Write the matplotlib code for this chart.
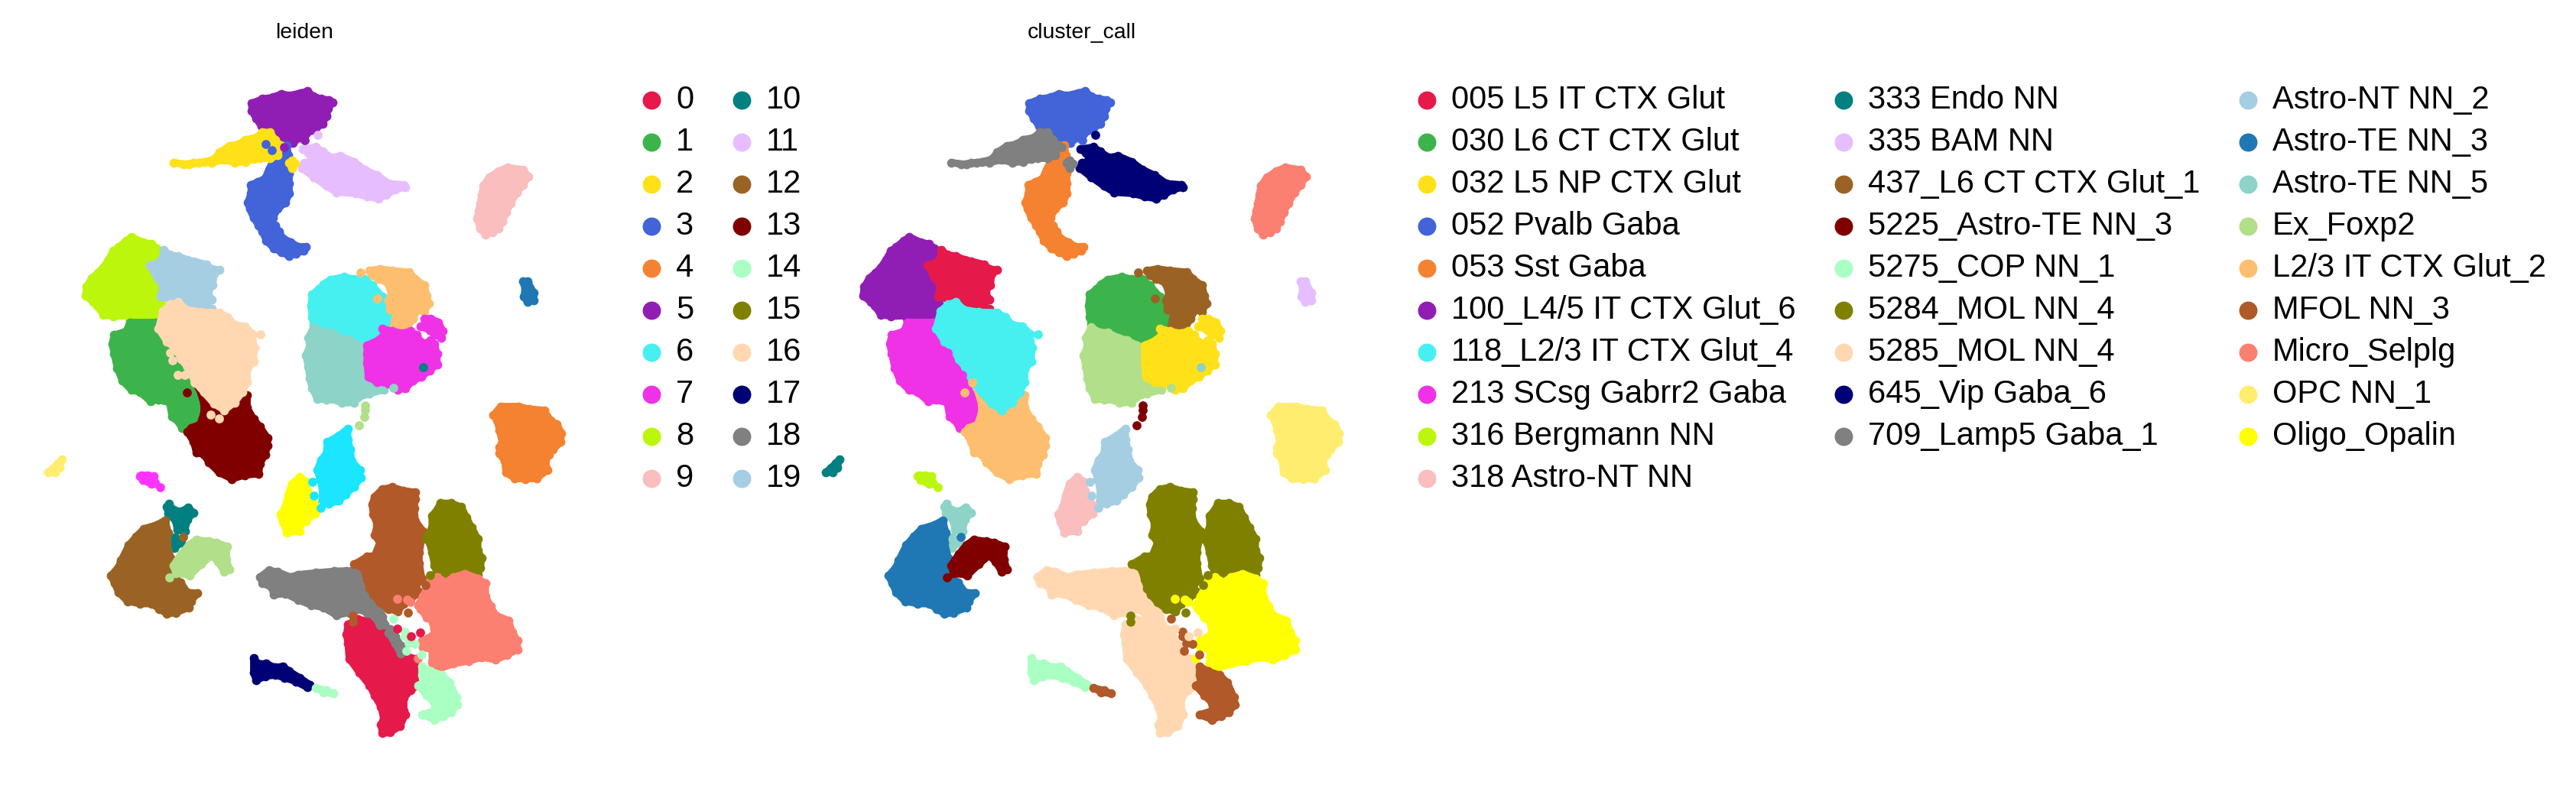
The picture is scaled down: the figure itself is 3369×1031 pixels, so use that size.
#! /usr/bin/env python

# Two embedding panels sharing the same layout, coloured by leiden and by cluster_call
import matplotlib
matplotlib.use("Agg")
import matplotlib.pyplot as plt

plt.rcParams['font.family'] = ['Liberation Sans', 'DejaVu Sans']

leiden_labels = [str(i) for i in range(20)]
leiden_colors = ['#e6194b', '#3cb44b', '#ffe119', '#4363d8', '#f58231', '#911eb4', '#46f0f0',
                 '#f032e6', '#bcf60c', '#fabebe', '#008080', '#e6beff', '#9a6324', '#800000',
                 '#aaffc3', '#808000', '#ffd8b1', '#000075', '#808080', '#a6cee3']

call_labels = ['005 L5 IT CTX Glut', '030 L6 CT CTX Glut', '032 L5 NP CTX Glut', '052 Pvalb Gaba',
               '053 Sst Gaba', '100_L4/5 IT CTX Glut_6', '118_L2/3 IT CTX Glut_4',
               '213 SCsg Gabrr2 Gaba', '316 Bergmann NN', '318 Astro-NT NN',
               '333 Endo NN', '335 BAM NN', '437_L6 CT CTX Glut_1', '5225_Astro-TE NN_3',
               '5275_COP NN_1', '5284_MOL NN_4', '5285_MOL NN_4', '645_Vip Gaba_6',
               '709_Lamp5 Gaba_1',
               'Astro-NT NN_2', 'Astro-TE NN_3', 'Astro-TE NN_5', 'Ex_Foxp2', 'L2/3 IT CTX Glut_2',
               'MFOL NN_3', 'Micro_Selplg', 'OPC NN_1', 'Oligo_Opalin']
call_colors = leiden_colors[:19] + ['#a6cee3', '#1f78b4', '#8dd3c7', '#b2df8a', '#fdbf6f', '#b15928',
                                    '#fb8072', '#ffed6f', '#ffff00']

A = (200, 100)
B = (90, 290)
C = (380, 330)
D = (130, 630)
E = (320, 620)

top_blob = [(388,105),(430,88),(470,82),(505,68),(535,75),(578,65),(606,58),(630,78),(660,88),(690,92),(705,102),(688,125),(682,155),(665,185),(635,210),(600,225),(575,240),(550,262),(520,275),(490,240),(460,215),(425,195),(405,165),(388,135)]
left_streak = [(82,338),(120,345),(160,340),(200,335),(240,325),(262,298),(300,272),(340,265),(362,248),(405,240),(430,218),(460,220),(480,250),(500,270),(490,310),(460,322),(420,322),(395,325),(362,335),(320,338),(280,328),(230,338),(180,338),(140,346)]
right_nub = [(545,330),(558,343),(545,360),(535,340)]
blue_tail = [(500,270),(525,270),(532,310),(535,345),(535,380),(535,420),(535,460),(520,495),(490,520),(470,555),(450,565),(480,585),(495,610),(510,635),(540,650),(570,668),(600,668),(590,685),(560,695),(535,705),(505,690),(475,675),(445,645),(430,610),(415,585),(395,555),(380,520),(372,495),(385,460),(385,425),(410,415),(440,400),(455,365),(470,335),(485,305)]
lav_streak = [(588,285),(640,277),(665,295),(700,318),(735,312),(790,335),(830,365),(880,388),(925,420),(985,425),(990,435),(950,445),(915,465),(885,480),(840,472),(795,460),(720,455),(680,430),(630,395),(585,360),(595,340),(625,330),(610,300)]

lime_blob = [(247,60),(290,80),(325,88),(345,105),(345,150),(350,220),(360,270),(362,320),(340,365),(310,400),(270,402),(240,395),(230,370),(175,372),(135,365),(110,330),(95,315),(65,290),(70,255),(90,222),(115,200),(135,180),(155,150),(175,115),(195,100),(225,75)]
sky_blob = [(372,110),(395,130),(430,135),(465,150),(490,155),(540,168),(560,185),(592,190),(570,205),(565,250),(545,275),(560,305),(530,325),(560,342),(530,345),(495,345),(458,352),(450,320),(400,305),(360,295),(368,250),(346,220),(318,170),(345,165),(370,140)]
peach_blob = [(430,315),(460,345),(520,355),(590,357),(625,375),(650,405),(690,410),(720,440),(728,495),(725,550),(700,580),(700,630),(680,670),(650,710),(610,740),(570,715),(530,670),(495,630),(465,570),(440,540),(420,500),(385,470),(352,420),(370,350),(400,325)]
green_blob = [(178,445),(225,430),(240,395),(340,395),(360,450),(400,500),(440,560),(495,600),(520,650),(540,710),(530,790),(510,825),(480,805),(445,810),(420,775),(405,765),(395,710),(350,700),(320,705),(280,670),(245,660),(210,625),(190,575),(178,520),(170,480)]
maroon_blob = [(510,650),(540,680),(570,710),(640,745),(700,680),(700,730),(725,775),(750,805),(780,850),(780,880),(770,915),(750,950),(745,990),(690,995),(640,1010),(590,985),(550,945),(530,915),(500,905),(490,865),(465,825),(480,810),(515,795),(530,750),(530,715)]
magenta_bit = [(285,995),(310,995),(332,1000),(340,1025),(325,1030),(290,1015),(280,1000)]

cyan_blob = [(155,108),(210,97),(250,105),(290,105),(320,130),(360,175),(395,240),(395,290),(360,300),(370,330),(310,345),(270,365),(220,345),(185,325),(130,310),(90,285),(85,255),(80,210),(85,165),(110,145),(130,125)]
apricot_arc = [(310,72),(350,65),(400,72),(465,78),(490,105),(525,130),(535,170),(542,200),(525,235),(500,225),(480,260),(460,295),(440,315),(400,310),(410,260),(415,225),(390,225),(385,190),(395,160),(380,120),(345,105),(320,90)]
magenta_blob = [(300,365),(345,345),(370,320),(360,300),(400,310),(440,318),(470,310),(495,325),(510,350),(525,360),(550,345),(565,360),(575,400),(575,440),(545,465),(512,490),(480,505),(450,535),(420,540),(385,515),(340,510),(305,490),(300,435),(300,400)]
magenta_ring = [(525,262),(550,260),(580,275),(598,310),(590,335),(565,325),(545,305),(510,292),(530,280)]
seafoam_blob = [(90,295),(125,315),(155,315),(195,335),(230,345),(270,365),(285,395),(280,430),(285,465),(300,510),(355,525),(365,540),(310,555),(265,570),(250,590),(200,592),(180,580),(140,580),(105,575),(85,535),(75,495),(70,450),(60,405),(75,370),(70,335)]
bright_cyan = [(225,692),(225,735),(235,775),(240,820),(272,855),(275,885),(250,920),(215,950),(190,975),(150,988),(120,990),(125,965),(125,930),(115,890),(105,855),(120,815),(140,790),(145,745),(190,720)]
small_blue = [(912,115),(930,115),(955,160),(955,190),(930,195),(915,175),(920,145)]
orange_blob = [(795,640),(825,605),(895,605),(935,615),(995,620),(1020,660),(1045,675),(1063,710),(1060,745),(1030,775),(1015,795),(1000,815),(1008,855),(965,888),(920,890),(880,888),(845,865),(840,820),(820,790),(820,765),(830,745),(820,700),(810,660)]

teal_bit = [(272,88),(290,110),(320,118),(348,102),(370,122),(345,150),(335,195),(305,190),(300,155),(270,125),(265,100)]
teal_low = [(297,218),(320,240),(295,262),(290,240)]
brown_blob = [(258,152),(270,200),(265,240),(280,300),(280,340),(300,385),(318,395),(345,435),(385,438),(360,470),(350,495),(300,515),(265,520),(235,500),(205,480),(160,480),(110,470),(75,435),(60,400),(45,370),(75,335),(85,310),(115,250),(145,215),(175,185),(225,170)]
foxp_arc = [(380,228),(430,235),(460,240),(500,255),(498,305),(510,345),(490,355),(465,315),(440,290),(400,325),(355,368),(300,360),(290,330),(320,285),(350,250)]

yellow_blob = [(215,12),(240,30),(245,65),(260,100),(285,130),(275,155),(240,185),(220,195),(215,225),(165,230),(150,190),(140,160),(160,130),(170,85),(185,40)]
sienna_blob = [(510,90),(540,60),(580,52),(620,65),(668,72),(670,100),(665,135),(670,185),(700,225),(695,255),(685,310),(685,350),(695,410),(670,445),(690,465),(650,490),(625,510),(600,540),(565,530),(530,505),(505,475),(490,450),(480,415),(465,370),(430,355),(480,325),(510,320),(530,270),(510,240),(520,200),(505,160),(500,120)]
olive_blob = [(768,115),(810,115),(850,130),(870,170),(890,210),(915,255),(915,300),(930,330),(925,370),(915,395),(860,395),(820,410),(790,420),(755,395),(745,360),(735,310),(725,270),(710,255),(735,210),(735,165),(755,140)]
salmon_blob = [(755,405),(790,425),(820,405),(865,392),(915,410),(945,430),(945,480),(965,520),(985,555),(1035,575),(1050,620),(1070,655),(1070,690),(1030,710),(985,730),(930,720),(880,735),(820,745),(765,765),(735,740),(735,690),(700,680),(695,655),(720,645),(745,625),(735,575),(715,565),(690,530),(680,515),(700,480),(725,425)]
gray_wedge = [(60,405),(95,378),(130,385),(180,405),(210,395),(280,388),(350,382),(400,380),(460,380),(470,420),(495,470),(530,510),(540,560),(550,590),(530,595),(510,560),(480,545),(440,530),(410,545),(360,555),(310,525),(260,515),(210,495),(160,470),(115,475),(105,445),(70,430)]
gray_chain = [(570,610),(590,640),(615,675),(612,705),(590,665),(565,625)]
crimson_blob = [(405,590),(445,570),(490,580),(520,600),(570,640),(590,670),(625,710),(665,725),(680,780),(680,830),(650,850),(625,880),(625,930),(630,945),(610,990),(570,1015),(540,1018),(535,985),(545,960),(535,915),(510,870),(490,830),(450,780),(410,725),(405,665),(400,630)]
mint_arc = [(695,755),(730,775),(775,790),(805,820),(830,875),(835,905),(810,935),(780,950),(745,965),(695,945),(745,930),(745,900),(715,870),(680,830),(700,820),(695,790)]
mint_streak = [(280,840),(320,850),(347,862),(310,858)]
navy_streak = [(35,722),(50,745),(85,745),(120,760),(150,755),(175,775),(215,800),(255,827),(245,838),(200,815),(155,800),(120,790),(80,795),(45,810),(35,780)]

# these two were read straight in output pixels
pink_blob = [(640,232),(652,224),(664,219),(684,222),(691,231),(684,242),(676,252),(668,266),(662,278),(657,290),(652,299),(644,304),(635,307),(628,299),(624,286),(626,276),(628,266),(630,255),(632,243)]
far_left_bit = [(63,618),(70,612),(76,606),(81,601),(78,612),(72,618)]

regions = [(top_blob, A), (lav_streak, A), (blue_tail, A), (left_streak, A), (right_nub, A),
           (pink_blob, (0, 0)), (small_blue, C), (orange_blob, C),
           (lime_blob, B), (sky_blob, B), (green_blob, B), (maroon_blob, B), (peach_blob, B),
           (cyan_blob, C), (seafoam_blob, C), (apricot_arc, C), (magenta_blob, C), (magenta_ring, C),
           (bright_cyan, C), (yellow_blob, E), (far_left_bit, (0, 0)), (magenta_bit, B),
           (teal_bit, D), (teal_low, D), (brown_blob, D), (foxp_arc, D),
           (crimson_blob, E), (gray_wedge, E), (gray_chain, E), (sienna_blob, E), (olive_blob, E),
           (salmon_blob, E), (mint_arc, E), (navy_streak, E), (mint_streak, E)]
region_leiden = ['#911eb4', '#e6beff', '#4363d8', '#ffe119', '#ffe119',
                 '#fabebe', '#1f78b4', '#f58231',
                 '#bcf60c', '#a6cee3', '#3cb44b', '#800000', '#ffd8b1',
                 '#46f0f0', '#8dd3c7', '#fdbf6f', '#f032e6', '#f032e6',
                 '#1ae6ff', '#ffff00', '#ffed6f', '#ff33ff',
                 '#008080', '#008080', '#9a6324', '#b2df8a',
                 '#e6194b', '#808080', '#808080', '#b15928', '#808000',
                 '#fb8072', '#aaffc3', '#000075', '#aaffc3']
region_call = ['#4363d8', '#000075', '#f58231', '#808080', '#808080',
               '#fb8072', '#e6beff', '#ffed6f',
               '#911eb4', '#e6194b', '#f032e6', '#fdbf6f', '#46f0f0',
               '#3cb44b', '#b2df8a', '#9a6324', '#ffe119', '#ffe119',
               '#a6cee3', '#fabebe', '#008080', '#bcf60c',
               '#8dd3c7', '#8dd3c7', '#1f78b4', '#800000',
               '#ffd8b1', '#ffd8b1', '#ffd8b1', '#808000', '#808000',
               '#ffff00', '#b15928', '#aaffc3', '#b15928']

# single stray cells, in output pixels
stray_x = [399, 372, 416, 348, 356,
           341, 223, 226, 233, 242, 255, 276, 287, 245, 210,
           554, 515, 478, 478, 477, 470, 409, 411, 420, 472, 494,
           240, 222,
           563, 557, 520, 533, 537, 547, 534, 462, 462,
           515, 530, 530, 535, 543, 552, 532, 520, 550, 538]
stray_y = [184, 193, 177, 189, 197,
           438, 462, 472, 491, 491, 501, 543, 548, 514, 638,
           481, 508, 531, 537, 546, 557, 631, 649, 665, 357, 391,
           703, 756,
           753, 766, 784, 785, 788, 862, 802, 806, 814,
           810, 827, 833, 842, 843, 857, 852, 823, 828, 833]
stray_leiden = ['#911eb4', '#911eb4', '#e6beff', '#4363d8', '#4363d8',
                '#ffd8b1', '#ffd8b1', '#ffd8b1', '#ffd8b1', '#ffd8b1', '#ffd8b1', '#ffd8b1', '#ffd8b1', '#800000', '#ff33ff',
                '#008080', '#8dd3c7', '#b2df8a', '#b2df8a', '#b2df8a', '#b2df8a', '#1ae6ff', '#1ae6ff', '#1ae6ff', '#fdbf6f', '#fdbf6f',
                '#9a6324', '#b2df8a',
                '#808000', '#b15928', '#fb8072', '#fb8072', '#fb8072', '#fb8072', '#b15928', '#b15928', '#b15928',
                '#aaffc3', '#aaffc3', '#aaffc3', '#aaffc3', '#aaffc3', '#aaffc3', '#aaffc3', '#e6194b', '#e6194b', '#e6194b']
stray_call = ['#4363d8', '#808080', '#000075', '#808080', '#808080',
              '#46f0f0', '#f032e6', '#f032e6', '#f032e6', '#f032e6', '#fdbf6f', '#fdbf6f', '#fdbf6f', '#fdbf6f', '#bcf60c',
              '#8dd3c7', '#b2df8a', '#800000', '#800000', '#800000', '#800000', '#a6cee3', '#a6cee3', '#a6cee3', '#9a6324', '#9a6324',
              '#1f78b4', '#800000',
              '#808000', '#808000', '#ffff00', '#ffff00', '#ffff00', '#ffff00', '#808000', '#808000', '#808000',
              '#b15928', '#b15928', '#b15928', '#b15928', '#b15928', '#b15928', '#b15928', '#ffd8b1', '#ffd8b1', '#ffd8b1']

W, H = 3370, 1031
DOT = 8
fig = plt.figure(figsize=(W / 300, H / 300), dpi=300)


def draw_panel(left_px, title, colors, strays, labels, label_colors, ncol, legend_px):
    ax = fig.add_axes([left_px / W, 0, 796 / W, 1])
    ax.set_xlim(0, 796)
    ax.set_ylim(H, 0)
    ax.axis('off')
    for (outline, origin), color in zip(regions, colors):
        if origin == (0, 0):
            xs = [p[0] for p in outline]
            ys = [p[1] for p in outline]
        else:
            xs = [origin[0] + p[0] / 3 for p in outline]
            ys = [origin[1] + p[1] / 3 for p in outline]
        ax.fill(xs, ys, color=color, lw=2.2, joinstyle='round')
        ax.scatter(xs, ys, s=DOT, color=color, linewidths=0)
    ax.scatter(stray_x, stray_y, s=DOT, c=strays, linewidths=0)
    ax.text(0.5, 1 - 43 / H, title, transform=ax.transAxes, fontsize=6.8, ha='center', va='center')
    handles = [plt.scatter([], [], s=33, color=c, linewidths=0, label=l)
               for l, c in zip(labels, label_colors)]
    fig.legend(handles=handles, loc='upper left', ncol=ncol, frameon=False, fontsize=10,
               bbox_to_anchor=(legend_px[0] / W, 1 - legend_px[1] / H), borderpad=0, borderaxespad=0,
               handlelength=1.0, handletextpad=0.27, columnspacing=1.0, labelspacing=0.36, scatterpoints=1)
    return ax


draw_panel(0, 'leiden', region_leiden, stray_leiden, leiden_labels, leiden_colors, 2, (831, 111))
draw_panel(1017, 'cluster_call', region_call, stray_call, call_labels, call_colors, 3, (1845, 111))

plt.savefig('out.png', dpi=300)
